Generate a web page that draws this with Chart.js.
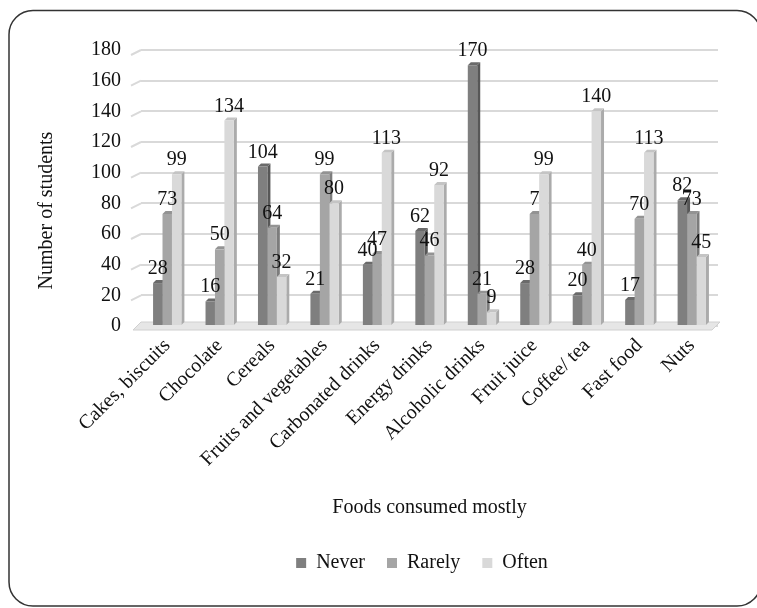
<!DOCTYPE html>
<html><head><meta charset="utf-8">
<script src="https://cdn.jsdelivr.net/npm/chart.js@4.4.0/dist/chart.umd.min.js"></script>
<style>html,body{margin:0;padding:0;background:#fff;}</style>
</head><body>
<canvas id="c" width="757" height="608" style="display:block;width:757px;height:608px"></canvas>
<script>
const categories = ['Cakes, biscuits','Chocolate','Cereals','Fruits and vegetables','Carbonated drinks','Energy drinks','Alcoholic drinks','Fruit juice','Coffee/ tea','Fast food','Nuts'];
const seriesNames = ['Never','Rarely','Often'];
const never  = [28, 16, 104, 21, 40, 62, 170, 28, 20, 17, 82];
const rarely = [73, 50, 64, 99, 47, 46, 21, 73, 40, 70, 73];
const often  = [99, 134, 32, 80, 113, 92, 9, 99, 140, 113, 45];
const neverLabelText  = never.map(String);
const rarelyLabelText = ['73','50','64','99','47','46','21','7','40','70','73'];
const oftenLabelText  = often.map(String);
const yTickValues = [0,20,40,60,80,100,120,140,160,180];
const yTitle = 'Number of students';
const xTitle = 'Foods consumed mostly';

const FONT = "'Liberation Serif', 'Times New Roman', serif";
const TEXT = '#111111';
const front = ['#7f7f7f','#a5a5a5','#d9d9d9'];
const side  = ['#575757','#7c7c7c','#ababab'];
const top3  = ['#6a6a6a','#939393','#c4c4c4'];
const DEPTH = 3;

const frame = {
  id:'frame',
  afterDraw(chart){
    const ctx = chart.ctx;
    ctx.save();
    ctx.strokeStyle = '#333';
    ctx.lineWidth = 1.5;
    ctx.beginPath();
    ctx.roundRect(9, 10.5, 752, 595.5, 24);
    ctx.stroke();
    ctx.restore();
  }
};

const threeD = {
  id:'threeD',
  beforeDatasetsDraw(chart){
    const ctx = chart.ctx, ys = chart.scales.y, ca = chart.chartArea;
    ctx.save();
    ctx.strokeStyle = '#d9d9d9';
    ctx.lineWidth = 2;
    ys.ticks.forEach(t => {
      if (t.value === 0) return;
      const y = ys.getPixelForValue(t.value);
      ctx.beginPath();
      ctx.moveTo(ca.left - 10, y + 5);
      ctx.lineTo(ca.left, y);
      ctx.stroke();
    });
    const b = ys.getPixelForValue(0);
    ctx.fillStyle = '#e6e6e6';
    ctx.strokeStyle = '#d0d0d0';
    ctx.lineWidth = 1;
    ctx.beginPath();
    ctx.moveTo(ca.left - 8, b + 4);
    ctx.lineTo(ca.left, b - 4);
    ctx.lineTo(ca.right + 2, b - 4);
    ctx.lineTo(ca.right - 6, b + 4);
    ctx.closePath();
    ctx.fill();
    ctx.stroke();
    const metas = [0,1,2].map(i => chart.getDatasetMeta(i));
    for (let j = 0; j < categories.length; j++) {
      metas.forEach((m, i) => {
        const el = m.data[j];
        if (!el) return;
        const {x, y, base, width} = el.getProps(['x','y','base','width'], true);
        const r = x + width/2, l = x - width/2;
        ctx.fillStyle = side[i];
        ctx.beginPath();
        ctx.moveTo(r, y); ctx.lineTo(r + DEPTH, y - DEPTH);
        ctx.lineTo(r + DEPTH, base - DEPTH); ctx.lineTo(r, base);
        ctx.closePath(); ctx.fill();
        ctx.fillStyle = top3[i];
        ctx.beginPath();
        ctx.moveTo(l, y); ctx.lineTo(l + DEPTH, y - DEPTH);
        ctx.lineTo(r + DEPTH, y - DEPTH); ctx.lineTo(r, y);
        ctx.closePath(); ctx.fill();
      });
    }
    ctx.restore();
  },
  afterDatasetsDraw(chart){
    const ctx = chart.ctx;
    const texts = [neverLabelText, rarelyLabelText, oftenLabelText];
    ctx.save();
    ctx.font = '20px ' + FONT;
    ctx.fillStyle = TEXT;
    ctx.textAlign = 'center';
    ctx.textBaseline = 'alphabetic';
    [0,1,2].forEach(i => {
      chart.getDatasetMeta(i).data.forEach((el, j) => {
        const {x, y} = el.getProps(['x','y'], true);
        ctx.fillText(texts[i][j], x, y - 9);
      });
    });
    ctx.restore();
  },
  afterLayout(chart){
    const lg = chart.legend, ca = chart.chartArea;
    if (!lg) return;
    lg.left = ca.left - 15;
    lg.right = ca.right;
    lg.width = lg.right - lg.left;
  }
};

new Chart(document.getElementById('c'), {
  type:'bar',
  data:{
    labels: categories,
    datasets:[
      {label:seriesNames[0], data:never,  backgroundColor:front[0]},
      {label:seriesNames[1], data:rarely, backgroundColor:front[1]},
      {label:seriesNames[2], data:often,  backgroundColor:front[2]}
    ]
  },
  options:{
    responsive:false,
    animation:false,
    devicePixelRatio:1,
    categoryPercentage:0.54,
    barPercentage:1.0,
    layout:{padding:{left:31, right:39, top:50, bottom:25}},
    plugins:{
      legend:{
        position:'bottom',
        labels:{font:{family:FONT, size:20}, color:TEXT, boxWidth:10, boxHeight:10, padding:22}
      },
      tooltip:{enabled:false}
    },
    scales:{
      x:{
        grid:{display:false, drawTicks:false},
        border:{display:false},
        ticks:{font:{family:FONT, size:20}, color:TEXT, maxRotation:45, minRotation:45, autoSkip:false, padding:8},
        title:{display:true, text:xTitle, font:{family:FONT, size:20}, color:TEXT, padding:{top:4, bottom:11}},
        afterFit(s){ s.height = 205; }
      },
      y:{
        min:0, max:180,
        afterBuildTicks(s){ s.ticks = yTickValues.map(v => ({value:v})); },
        grid:{color:'#d9d9d9', lineWidth:2, drawTicks:false},
        border:{display:false},
        ticks:{font:{family:FONT, size:20}, color:TEXT, padding:20},
        title:{display:true, text:yTitle + '         ', font:{family:FONT, size:20}, color:TEXT, padding:{top:4, bottom:4}},
        afterFit(s){ s.width = 110; }
      }
    }
  },
  plugins:[frame, threeD]
});
</script>
</body></html>
